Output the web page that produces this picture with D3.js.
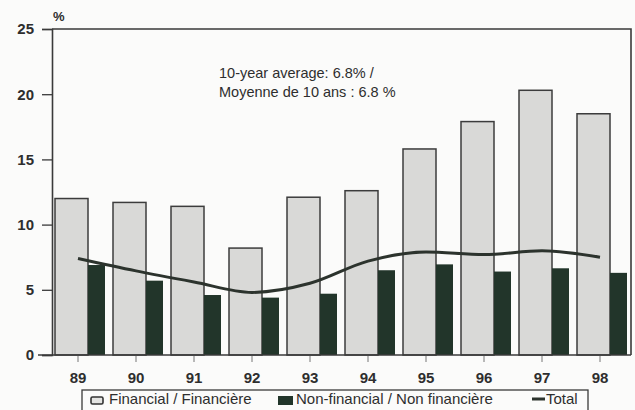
<!DOCTYPE html>
<html>
<head>
<meta charset="utf-8">
<script src="https://cdn.jsdelivr.net/npm/d3@7"></script>
<style>
  html, body { margin: 0; padding: 0; background: #fbfbfa; }
  svg { display: block; }
  text { font-family: "Liberation Sans", Arial, sans-serif; fill: #2e2e2e; }
</style>
</head>
<body>
<svg id="chart" width="635" height="410"></svg>
<script>
const years = ["89", "90", "91", "92", "93", "94", "95", "96", "97", "98"];
const financial = [12.0, 11.7, 11.4, 8.2, 12.1, 12.6, 15.8, 17.9, 20.3, 18.5];
const nonFinancial = [6.9, 5.7, 4.6, 4.4, 4.7, 6.5, 6.95, 6.4, 6.65, 6.3];
const total = [7.4, 6.45, 5.6, 4.8, 5.5, 7.2, 7.9, 7.7, 8.0, 7.5];
const yTicks = [0, 5, 10, 15, 20, 25];
const seriesLabels = ["Financial / Financière", "Non-financial / Non financière", "Total"];
const noteLines = ["10-year average: 6.8% /", "Moyenne de 10 ans : 6.8 %"];

const svg = d3.select("#chart");
const plot = { left: 52, right: 631, top: 29, bottom: 355 };

const y = d3.scaleLinear().domain([0, 25]).range([plot.bottom, plot.top]);
const x = d3.scaleBand().domain(years).range([49, 629]).paddingInner(0).paddingOuter(0);
const cx = d => x(d) + x.bandwidth() / 2;

const ink = "#2e2e2e";

// Frame (top and right)
svg.append("path")
  .attr("d", `M${plot.left},${plot.top}H${plot.right}V${plot.bottom}`)
  .attr("fill", "none").attr("stroke", "#3a3a3a").attr("stroke-width", 1.6);

// Bars
const finW = 33, nonW = 17;
svg.append("g").selectAll("rect").data(years).join("rect")
  .attr("x", (d) => cx(d) - 23)
  .attr("y", (d, i) => y(financial[i]))
  .attr("width", finW)
  .attr("height", (d, i) => y(0) - y(financial[i]))
  .attr("fill", "#d9d9d7")
  .attr("stroke", "#3c3c3c").attr("stroke-width", 1.5);

svg.append("g").selectAll("rect").data(years).join("rect")
  .attr("x", (d) => cx(d) + 10)
  .attr("y", (d, i) => y(nonFinancial[i]))
  .attr("width", nonW)
  .attr("height", (d, i) => y(0) - y(nonFinancial[i]))
  .attr("fill", "#22352a");

// Total line
const line = d3.line()
  .x((d, i) => cx(years[i]))
  .y(d => y(d))
  .curve(d3.curveMonotoneX);
svg.append("path").datum(total)
  .attr("d", line)
  .attr("fill", "none").attr("stroke", "#2c332d").attr("stroke-width", 3);

// Y axis
const yAxis = svg.append("g").attr("transform", `translate(${plot.left},0)`)
  .call(d3.axisLeft(y).tickValues(yTicks).tickSize(10).tickPadding(8).tickFormat(d3.format("d")));
yAxis.select(".domain").attr("stroke", "#3a3a3a").attr("stroke-width", 1.6);
yAxis.selectAll(".tick line").attr("stroke", "#3a3a3a").attr("stroke-width", 1.3);
yAxis.selectAll(".tick text").attr("font-size", 15).attr("font-weight", "bold")
  .attr("fill", ink).style("font-family", "'Liberation Sans', Arial, sans-serif");

// X axis (zero line)
const xAxis = svg.append("g").attr("transform", `translate(0,${plot.bottom})`)
  .call(d3.axisBottom(x).tickSize(7).tickPadding(10));
xAxis.select(".domain").remove();
svg.append("line").attr("x1", 38).attr("x2", plot.right)
  .attr("y1", plot.bottom).attr("y2", plot.bottom)
  .attr("stroke", "#3a3a3a").attr("stroke-width", 1.6);
xAxis.selectAll(".tick line").attr("stroke", "#777").attr("stroke-width", 1);
xAxis.selectAll(".tick text").attr("font-size", 15).attr("font-weight", "bold")
  .attr("fill", ink).style("font-family", "'Liberation Sans', Arial, sans-serif");

// % unit
svg.append("text").attr("x", 53).attr("y", 21)
  .attr("font-size", 13).attr("font-weight", "bold").text("%");

// Note
svg.append("g").selectAll("text").data(noteLines).join("text")
  .attr("x", 219).attr("y", (d, i) => 78 + i * 19)
  .attr("font-size", 14.5).text(d => d);

// Legend
const lg = svg.append("g");
lg.append("rect").attr("x", 82).attr("y", 390).attr("width", 506).attr("height", 30)
  .attr("fill", "none").attr("stroke", "#3a3a3a").attr("stroke-width", 1.3);
lg.append("rect").attr("x", 91).attr("y", 397).attr("width", 12).attr("height", 7)
  .attr("rx", 1.5).attr("fill", "#e4e4e2").attr("stroke", "#333").attr("stroke-width", 1.6);
lg.append("text").attr("x", 109).attr("y", 404).attr("font-size", 15).text(seriesLabels[0]);
lg.append("rect").attr("x", 278).attr("y", 396).attr("width", 15).attr("height", 9)
  .attr("fill", "#22352a");
lg.append("text").attr("x", 296).attr("y", 404).attr("font-size", 15).text(seriesLabels[1]);
lg.append("line").attr("x1", 532).attr("x2", 545).attr("y1", 399).attr("y2", 399)
  .attr("stroke", "#2c332d").attr("stroke-width", 3);
lg.append("text").attr("x", 546).attr("y", 404).attr("font-size", 15).text(seriesLabels[2]);
</script>
</body>
</html>
